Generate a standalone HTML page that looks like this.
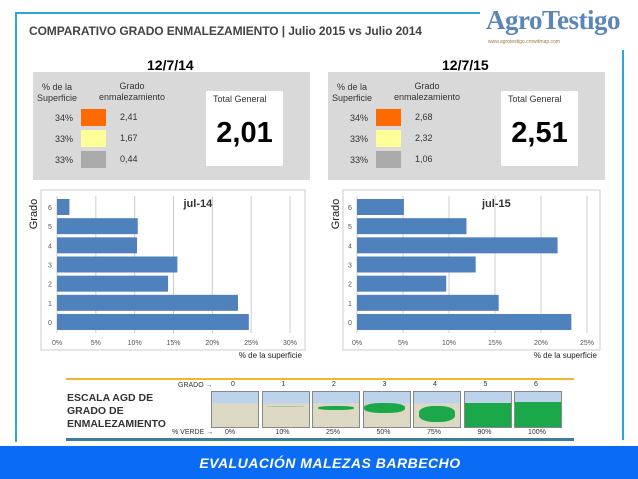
<!DOCTYPE html>
<html><head><meta charset="utf-8"><style>
body{margin:0;width:638px;height:479px;background:#fff;position:relative;overflow:hidden;font-family:"Liberation Sans",sans-serif}
.a{position:absolute}
.sm{font-size:9px;color:#333}
</style></head><body>
<div class="a" style="left:15px;top:12px;width:465px;height:2px;background:#2aa7d8"></div>
<div class="a" style="left:15px;top:12px;width:2px;height:430px;background:#2aa7d8"></div>
<div class="a" style="left:622px;top:50px;width:2px;height:390px;background:#2aa7d8"></div>
<div class="a" style="left:29px;top:24px;font-size:12px;font-weight:bold;color:#444;letter-spacing:-0.1px">COMPARATIVO GRADO ENMALEZAMIENTO | Julio 2015 vs Julio 2014</div>
<div class="a" style="left:486px;top:5px;font-family:'Liberation Serif',serif;font-size:27px;font-weight:bold;color:#5b87b8;letter-spacing:-0.5px">AgroTestigo</div>
<div class="a" style="left:488px;top:39px;font-size:5px;color:#a07a40">www.agrotestigo.crowdmap.com</div>

<div id="panels"></div>
<svg class="a" id="charts" style="left:0;top:0" width="638" height="370"></svg>

<div class="a" style="left:66px;top:378px;width:508px;height:2px;background:#f2b630"></div>
<div class="a" style="left:66px;top:438px;width:508px;height:3px;background:#3a7f9a"></div>
<div class="a" style="left:67px;top:392px;font-size:10.5px;font-weight:bold;color:#333;line-height:13px">ESCALA AGD DE<br>GRADO DE<br>ENMALEZAMIENTO</div>
<div class="a sm" style="left:178px;top:382px;font-size:7px">GRADO →</div>
<div class="a sm" style="left:172px;top:429px;font-size:7px">% VERDE →</div>
<div id="scale"></div>

<div class="a" style="left:0;top:446px;width:638px;height:33px;background:#0a6cf4"></div>
<div class="a" style="left:0;top:455px;width:660px;text-align:center;color:#fff;font-weight:bold;font-style:italic;font-size:14px;letter-spacing:0.5px">EVALUACIÓN MALEZAS BARBECHO</div>

<script>
const grades=["0","1","2","3","4","5","6"];
const jul14=[24.7,23.3,14.3,15.5,10.3,10.4,1.6];
const jul15=[23.3,15.4,9.7,12.9,21.8,11.9,5.1];
const ticks14=[0,5,10,15,20,25,30];
const ticks15=[0,5,10,15,20,25];
const dates=["12/7/14","12/7/15"];
const totals=["2,01","2,51"];
const levels14=["2,41","1,67","0,44"];
const levels15=["2,68","2,32","1,06"];
const shares=["34%","33%","33%"];
const scalePct=["0%","10%","25%","50%","75%","90%","100%"];

const P=document.getElementById('panels');
const cols=["#ff6a00","#ffff99","#aaaaaa"];
[0,1].forEach(i=>{
 const x=i?328:33;
 const lv=i?levels15:levels14;
 let h=`<div class="a" style="left:${x+114}px;top:57px;font-weight:bold;font-size:14px">${dates[i]}</div>
 <div class="a" style="left:${x}px;top:72px;width:277px;height:108px;background:#d9d9d9"></div>
 <div class="a sm" style="left:${x+4}px;top:82px;text-align:center;line-height:11px">% de la<br>Superficie</div>
 <div class="a sm" style="left:${x+66}px;top:81px;text-align:center;line-height:11px">Grado<br>enmalezamiento</div>
 <div class="a" style="left:${x+173}px;top:91px;width:77px;height:75px;background:#fff"></div>
 <div class="a sm" style="left:${x+180}px;top:94px">Total General</div>
 <div class="a" style="left:${x+173}px;top:117px;width:77px;text-align:center;font-size:29px;font-weight:bold">${totals[i]}</div>`;
 for(let k=0;k<3;k++){const y=109+k*21;
  h+=`<div class="a sm" style="left:${x+22}px;top:${y+4}px">${shares[k]}</div>
  <div class="a" style="left:${x+48}px;top:${y}px;width:25px;height:17px;background:${cols[k]}"></div>
  <div class="a sm" style="left:${x+87}px;top:${y+3}px">${lv[k]}</div>`;}
 P.insertAdjacentHTML('beforeend',h);
});

const S=document.getElementById('charts');const NS="http://www.w3.org/2000/svg";
function el(t,a,txt){const e=document.createElementNS(NS,t);for(const k in a)e.setAttribute(k,a[k]);if(txt!==undefined)e.textContent=txt;S.appendChild(e);return e;}
function chart(bx,bw,x0,x1,vals,ticks,title,idx){
 const b=el('rect',{x:bx,y:190,width:bw,height:160,fill:'#fff',stroke:'#ccc'});
 
 const max=ticks[ticks.length-1];const sx=v=>x0+(x1-x0)*v/max;
 const rowH=(322-207)/6;const sy=g=>322-g*rowH;
 ticks.forEach(t=>{const l=el('line',{x1:sx(t),x2:sx(t),y1:196,y2:333,stroke:'#ccc'});
  
  const tx=el('text',{x:sx(t),y:345,'font-size':7,fill:'#555','text-anchor':'middle'},t+'%');
  });
 vals.forEach((v,g)=>{const r=el('rect',{x:x0,y:sy(g)-8,width:sx(v)-x0,height:16,fill:'#4f81bd'});
  
  const t=el('text',{x:x0-7,y:sy(g)+3,'font-size':7,fill:'#555','text-anchor':'middle'},grades[g]);
  });
 const tt=el('text',{x:(x0+x1)/2+10,y:207,'font-size':11,'font-weight':'bold',fill:'#333'},title);
 
 const yt=el('text',{x:0,y:0,'font-size':11,fill:'#222',transform:`translate(${bx-4},214) rotate(-90)`,'text-anchor':'middle'},'Grado');
 
 const xt=el('text',{x:bx+bw-3,y:358,'font-size':8,fill:'#222','text-anchor':'end'},'% de la superficie');
 
}
chart(41,264,57,290,jul14,ticks14,'jul-14',0);
chart(343,257,357,587,jul15,ticks15,'jul-15',1);

const SC=document.getElementById('scale');
scalePct.forEach((p,i)=>{const x=211+i*50.5;const f=[0,0.03,0.2,0.5,0.75,0.9,1][i];
 let inner='';
 if(i===6||i===5)inner=`<div style="position:absolute;left:0;bottom:0;width:100%;height:${i==6?72:70}%;background:#1aa84a"></div>`;
 else if(f>0)inner=`<div style="position:absolute;left:${i==3?0:10}%;top:${i==3?30:40}%;width:${i==3?90:80}%;height:${f*60}%;background:#1aa84a;border-radius:40%;opacity:${i==1?0.3:1}"></div>`;
 SC.insertAdjacentHTML('beforeend',`<div class="a sm" style="left:${x+20}px;top:381px;font-size:7px">${i}</div>
 <div class="a" style="left:${x}px;top:391px;width:46px;height:35px;border:1px solid #888;background:linear-gradient(#bdd3ec 0 33%,#ddd8c4 33%);overflow:hidden">${inner}</div>
 <div class="a sm" style="left:${x+14}px;top:429px;font-size:7px">${p}</div>`);
});
</script>
</body></html>
